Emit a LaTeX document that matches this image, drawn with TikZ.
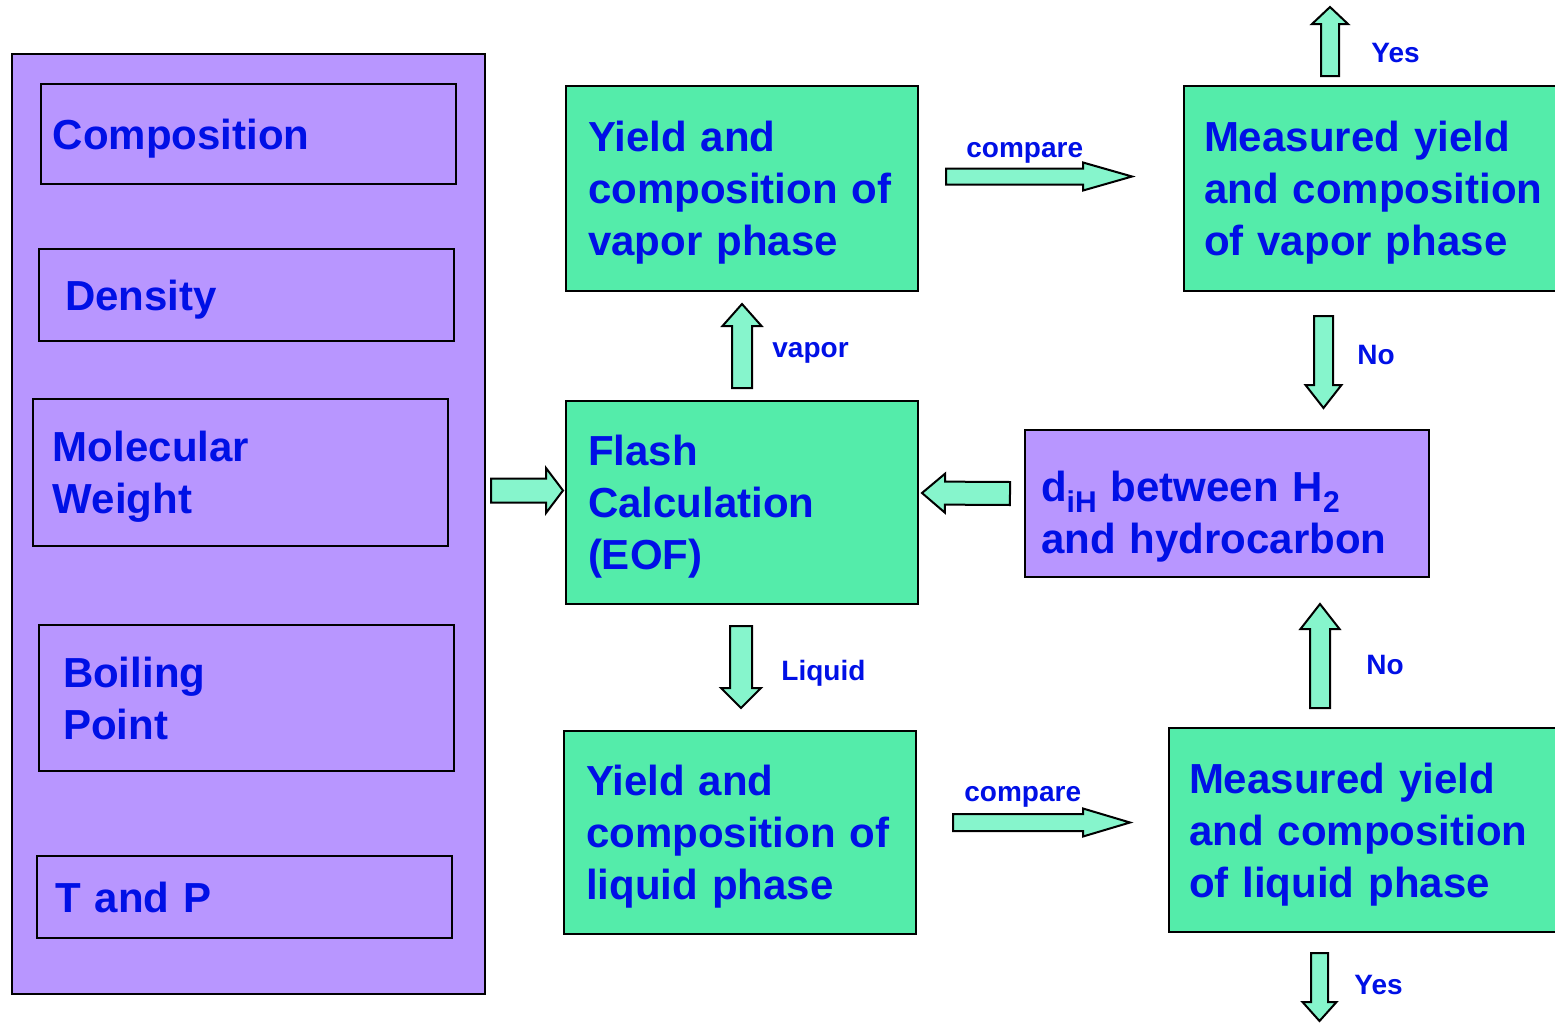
\documentclass[tikz,border=0pt]{standalone}
\usepackage{fontspec}
\setmainfont{Liberation Sans}
\usetikzlibrary{calc}
\definecolor{boxpurple}{RGB}{184,150,255}
\definecolor{boxgreen}{RGB}{84,236,170}
\definecolor{arrowgreen}{RGB}{134,245,204}
\definecolor{txtblue}{RGB}{0,16,230}
\newcommand{\boxfont}{\bfseries\fontsize{21}{26}\selectfont}
\newcommand{\lblfont}{\bfseries\fontsize{14}{16}\selectfont}
\newcommand{\lowsub}[1]{\raisebox{-5.5pt}{\fontsize{15}{15}\selectfont #1}}
% block arrow: shaft half width, head half width, head length (px), start, tip
\newcommand{\blockarrow}[5]{%
  \draw[barrow] let \p1=#4, \p2=#5, \p3=($(\p2)!#3*0.5pt!(\p1)$) in
    ($(\p1)!#1*0.5pt!90:(\p2)$) -- ($(\p3)!#1*0.5pt!90:(\p2)$)
    -- ($(\p3)!#2*0.5pt!90:(\p2)$) -- (\p2)
    -- ($(\p3)!#2*0.5pt!-90:(\p2)$) -- ($(\p3)!#1*0.5pt!-90:(\p2)$)
    -- ($(\p1)!#1*0.5pt!-90:(\p2)$) -- cycle;}

\begin{document}
\begin{tikzpicture}[x=0.5pt,y=-0.5pt,
  box/.style={draw=black, line width=1pt, anchor=north west, align=left,
    text=txtblue, font=\boxfont, inner ysep=0pt, text height=15pt, text depth=0pt},
  twolines/.style={text depth=26pt},
  threelines/.style={text depth=52pt},
  purplebox/.style={box, fill=boxpurple},
  greenbox/.style={box, fill=boxgreen},
  lbl/.style={text=txtblue, font=\lblfont, anchor=base west, inner sep=0pt},
  barrow/.style={draw=black, line width=1pt, fill=arrowgreen}]
  \clip (0,0) rectangle (1555,1023);
  % Input properties
  \node[purplebox, minimum width=236.5pt, minimum height=470pt] (props) at (11,53) {};
  \node[purplebox, text width=195.5pt, inner xsep=6pt, minimum height=50pt] (comp) at (40,83) {Composition};
  \node[purplebox, text width=181.5pt, inner xsep=13pt, minimum height=46pt] (dens) at (38,248) {Density};
  \node[purplebox, twolines, text width=187.5pt, inner xsep=10pt, minimum height=73.5pt] (molw) at (32,398) {Molecular\\Weight};
  \node[purplebox, twolines, text width=183.5pt, inner xsep=12pt, minimum height=73pt] (boil) at (38,624) {Boiling\\Point};
  \node[purplebox, text width=189.5pt, inner xsep=9pt, minimum height=41pt] (tp) at (36,855) {T and P};
  % Calculation boxes
  \node[greenbox, threelines, text width=154pt, inner xsep=11pt, minimum height=102.5pt] (yv) at (565,85) {Yield and\\composition of\\vapor phase};
  \node[greenbox, threelines, text width=154pt, inner xsep=11pt, minimum height=101.5pt] (flash) at (565,400) {Flash\\Calculation\\(EOF)};
  \node[greenbox, threelines, text width=154pt, inner xsep=11pt, minimum height=101.5pt] (yl) at (563,730) {Yield and\\composition of\\liquid phase};
  % Measured data and correction
  \node[greenbox, threelines, text width=171pt, inner xsep=10pt, minimum height=102.5pt] (mv) at (1183,85) {Measured yield\\and composition\\of vapor phase};
  \node[purplebox, text height=22.5pt, text depth=25pt, text width=186pt, inner xsep=8pt, minimum height=73.5pt] (dih) at (1024,429)
    {\fontsize{21}{25}\selectfont d\lowsub{iH} between H\lowsub{2}\\and hydrocarbon};
  \node[greenbox, threelines, text width=178.5pt, inner xsep=10pt, minimum height=102pt] (ml) at (1168,727) {Measured yield\\and composition\\of liquid phase};
  \coordinate (yesup) at (1330,7);
  \coordinate (yesdown) at (1319.5,1021);
  % Block arrows
  \blockarrow{12}{22.5}{17}{($(props.east |- flash.west)+(5,-12)$)}{($(flash.west)+(-2,-12)$)}
  \blockarrow{10}{19.5}{22}{($(flash.north)+(0,-12)$)}{($(yv.south)+(0,12)$)}
  \blockarrow{11}{20}{20}{($(flash.south)+(-1,21)$)}{($(yl.north)+(1,-22)$)}
  \blockarrow{8}{14}{49}{($(yv.east)+(27,-12)$)}{($(mv.west)+(-51,-12)$)}
  \blockarrow{8.5}{14}{47}{($(yl.east)+(36,-10)$)}{($(ml.west)+(-38,-7.5)$)}
  \blockarrow{11.5}{19.5}{23}{($(dih.west)+(-14,-10)$)}{($(flash.east)+(3,-9.5)$)}
  \blockarrow{9.5}{18}{23}{($(mv.south west)+(140.5,24)$)}{($(dih.north west)+(299.5,-21)$)}
  \blockarrow{10}{19.5}{25}{($(ml.north west)+(152,-19)$)}{($(dih.south west)+(296,26)$)}
  \blockarrow{9}{18}{17}{($(mv.north west)+(147,-9)$)}{(yesup)}
  \blockarrow{8.5}{17}{19}{($(ml.south west)+(151.5,20)$)}{(yesdown)}
  % Arrow labels
  \node[lbl] (cmpv) at (966,157) {compare};
  \node[lbl] (cmpl) at (964,801) {compare};
  \node[lbl] (vap) at (772,357) {vapor};
  \node[lbl] (liq) at (781,680) {Liquid};
  \node[lbl] (nov) at (1357,364) {No};
  \node[lbl] (nol) at (1366,674) {No};
  \node[lbl] (yesv) at (1371,62) {Yes};
  \node[lbl] (yesl) at (1354,994) {Yes};
\end{tikzpicture}
\end{document}
